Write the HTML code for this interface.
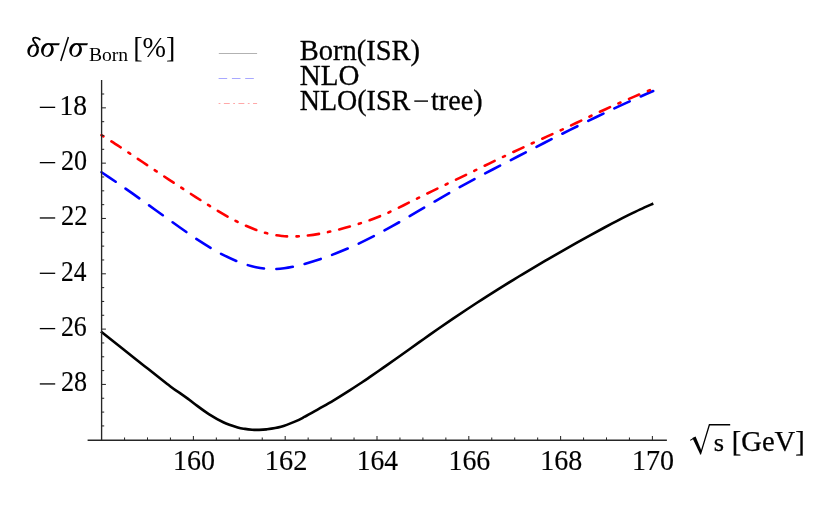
<!DOCTYPE html>
<html><head><meta charset="utf-8"><style>
html,body{margin:0;padding:0;background:#fff;}
svg{display:block;font-family:"Liberation Serif",serif;will-change:transform;opacity:0.9999;}
</style></head><body>
<svg width="832" height="514" viewBox="0 0 832 514">
<rect width="832" height="514" fill="#fff"/>

<g fill="#000" stroke="#000" stroke-width="0.15">
<text x="59.50" y="114.83" font-size="30.3" textLength="27.58" lengthAdjust="spacingAndGlyphs">18</text>
<line x1="39.8" y1="107.33" x2="55.2" y2="107.33" stroke="#000" stroke-width="1.3"/>
<text x="60.92" y="170.15" font-size="30.3" textLength="26.09" lengthAdjust="spacingAndGlyphs">20</text>
<line x1="39.8" y1="162.65" x2="55.2" y2="162.65" stroke="#000" stroke-width="1.3"/>
<text x="60.90" y="225.47" font-size="30.3" textLength="26.57" lengthAdjust="spacingAndGlyphs">22</text>
<line x1="39.8" y1="217.97" x2="55.2" y2="217.97" stroke="#000" stroke-width="1.3"/>
<text x="60.95" y="280.79" font-size="30.3" textLength="25.41" lengthAdjust="spacingAndGlyphs">24</text>
<line x1="39.8" y1="273.29" x2="55.2" y2="273.29" stroke="#000" stroke-width="1.3"/>
<text x="60.93" y="336.11" font-size="30.3" textLength="25.86" lengthAdjust="spacingAndGlyphs">26</text>
<line x1="39.8" y1="328.61" x2="55.2" y2="328.61" stroke="#000" stroke-width="1.3"/>
<text x="60.92" y="391.43" font-size="30.3" textLength="26.09" lengthAdjust="spacingAndGlyphs">28</text>
<line x1="39.8" y1="383.93" x2="55.2" y2="383.93" stroke="#000" stroke-width="1.3"/>
<text x="173.06" y="470.30" font-size="30.3" textLength="42.05" lengthAdjust="spacingAndGlyphs">160</text>
<text x="264.82" y="470.30" font-size="30.3" textLength="42.56" lengthAdjust="spacingAndGlyphs">162</text>
<text x="356.70" y="470.30" font-size="30.3" textLength="41.30" lengthAdjust="spacingAndGlyphs">164</text>
<text x="448.47" y="470.30" font-size="30.3" textLength="41.80" lengthAdjust="spacingAndGlyphs">166</text>
<text x="540.26" y="470.30" font-size="30.3" textLength="42.05" lengthAdjust="spacingAndGlyphs">168</text>
<text x="632.06" y="470.30" font-size="30.3" textLength="42.05" lengthAdjust="spacingAndGlyphs">170</text>
</g>
<path d="M100.90 331.50 C106.67 336.07 123.97 349.77 135.50 358.90 C147.03 368.03 162.68 380.60 170.10 386.30 C177.52 392.00 177.00 391.00 180.00 393.10 C183.00 395.20 185.70 397.12 188.10 398.90 C190.50 400.68 190.95 401.27 194.40 403.80 C197.85 406.33 203.98 411.03 208.80 414.10 C213.62 417.17 218.48 419.98 223.30 422.20 C228.12 424.42 234.08 426.28 237.70 427.40 C241.32 428.52 242.60 428.52 245.00 428.90 C247.40 429.28 249.95 429.53 252.10 429.70 C254.25 429.87 255.50 429.95 257.90 429.90 C260.30 429.85 262.65 429.92 266.50 429.40 C270.35 428.88 276.18 428.13 281.00 426.80 C285.82 425.47 291.50 423.04 295.40 421.40 C299.30 419.76 300.50 419.03 304.40 416.94 C308.30 414.85 313.98 411.58 318.80 408.86 C323.62 406.14 328.48 403.48 333.30 400.62 C338.12 397.76 342.90 394.75 347.70 391.68 C352.50 388.62 358.38 384.71 362.10 382.25 C365.82 379.79 366.52 379.29 370.00 376.91 C373.48 374.52 378.67 370.94 383.00 367.92 C387.33 364.89 391.60 361.87 396.00 358.75 C400.40 355.64 404.77 352.52 409.40 349.22 C414.03 345.93 418.98 342.39 423.80 338.98 C428.62 335.58 433.48 332.14 438.30 328.79 C443.12 325.45 447.90 322.15 452.70 318.89 C457.50 315.63 462.30 312.41 467.10 309.23 C471.90 306.04 476.68 302.91 481.50 299.80 C486.32 296.69 492.18 292.98 496.00 290.57 C499.82 288.15 500.60 287.66 504.40 285.32 C508.20 282.98 513.98 279.42 518.80 276.50 C523.62 273.58 528.48 270.67 533.30 267.82 C538.12 264.96 542.90 262.16 547.70 259.37 C552.50 256.59 557.30 253.83 562.10 251.09 C566.90 248.35 571.68 245.65 576.50 242.94 C581.32 240.24 586.40 237.41 591.00 234.88 C595.60 232.35 599.90 230.01 604.10 227.76 C608.30 225.51 612.17 223.46 616.20 221.37 C620.23 219.28 624.28 217.21 628.30 215.21 C632.32 213.20 636.13 211.30 640.30 209.35 C644.47 207.41 651.13 204.50 653.30 203.53" fill="none" stroke="#000" stroke-width="2.6"/>
<path d="M100.60 171.58 C103.25 173.37 112.48 179.57 116.50 182.30 C120.52 185.04 120.77 185.23 124.70 188.00 C128.63 190.77 136.22 196.16 140.10 198.92 C143.98 201.69 144.10 201.78 148.00 204.59 C151.90 207.40 159.53 212.91 163.50 215.77 C167.47 218.63 167.82 218.91 171.80 221.74 C175.78 224.58 183.42 230.00 187.40 232.79 C191.38 235.57 191.70 235.84 195.70 238.44 C199.70 241.03 207.32 245.88 211.40 248.37 C215.48 250.86 215.93 251.20 220.20 253.36 C224.47 255.51 232.60 259.42 237.00 261.32 C241.40 263.22 243.43 263.78 246.60 264.76 C249.77 265.75 252.88 266.57 256.00 267.22 C259.12 267.87 262.07 268.37 265.30 268.67 C268.53 268.97 272.27 269.10 275.40 269.04 C278.53 268.98 280.97 268.74 284.10 268.32 C287.23 267.90 290.95 267.21 294.20 266.52 C297.45 265.83 299.03 265.49 303.60 264.18 C308.17 262.87 317.03 260.14 321.60 258.66 C326.17 257.18 326.47 257.06 331.00 255.29 C335.53 253.53 344.30 249.96 348.80 248.06 C353.30 246.16 353.70 245.96 358.00 243.91 C362.30 241.85 370.33 237.89 374.60 235.73 C378.87 233.57 379.38 233.27 383.60 230.96 C387.82 228.64 395.68 224.23 399.90 221.84 C404.12 219.45 404.75 219.05 408.90 216.63 C413.05 214.20 420.66 209.71 424.80 207.27 C428.94 204.83 429.54 204.45 433.75 202.00 C437.96 199.54 445.86 194.96 450.05 192.56 C454.24 190.15 454.69 189.90 458.90 187.58 C463.11 185.27 471.05 180.95 475.30 178.65 C479.55 176.36 480.13 176.06 484.40 173.81 C488.67 171.57 496.63 167.41 500.90 165.19 C505.17 162.97 505.73 162.68 510.00 160.48 C514.27 158.28 522.25 154.16 526.50 151.97 C530.75 149.78 531.17 149.57 535.50 147.35 C539.83 145.14 548.15 140.90 552.50 138.69 C556.85 136.49 557.27 136.27 561.60 134.11 C565.93 131.94 574.17 127.83 578.50 125.69 C582.83 123.55 583.28 123.32 587.55 121.25 C591.82 119.18 599.77 115.35 604.10 113.28 C608.43 111.21 609.12 110.88 613.50 108.85 C617.88 106.81 626.00 103.07 630.40 101.07 C634.80 99.06 636.10 98.48 639.90 96.81 C643.70 95.14 650.98 92.02 653.20 91.06" fill="none" stroke="#0000ff" stroke-width="2.6" stroke-linecap="round" stroke-dasharray="16.6 12.33" stroke-dashoffset="-1.4"/>
<path d="M100.60 134.62 C102.28 135.67 107.23 138.68 110.70 140.89 C114.17 143.09 118.28 145.80 121.40 147.85 C124.52 149.91 126.82 151.46 129.40 153.19 C131.98 154.92 133.77 156.13 136.90 158.24 C140.03 160.34 145.07 163.72 148.20 165.82 C151.33 167.92 153.20 169.17 155.70 170.83 C158.20 172.50 160.08 173.75 163.20 175.81 C166.32 177.88 171.20 181.10 174.40 183.20 C177.60 185.30 179.75 186.71 182.40 188.43 C185.05 190.16 187.13 191.51 190.30 193.55 C193.47 195.59 198.28 198.68 201.40 200.66 C204.52 202.65 206.45 203.86 209.00 205.46 C211.55 207.06 213.42 208.28 216.70 210.24 C219.98 212.20 225.41 215.39 228.70 217.23 C231.99 219.07 233.72 219.92 236.45 221.28 C239.18 222.64 241.63 223.89 245.10 225.39 C248.57 226.89 253.74 229.01 257.25 230.29 C260.76 231.57 263.12 232.28 266.15 233.09 C269.17 233.90 272.74 234.65 275.40 235.14 C278.06 235.63 279.93 235.81 282.10 236.03 C284.27 236.25 285.83 236.38 288.40 236.44 C290.97 236.49 294.52 236.50 297.50 236.38 C300.48 236.25 302.53 236.15 306.30 235.70 C310.07 235.26 316.28 234.33 320.10 233.69 C323.92 233.04 326.18 232.50 329.20 231.83 C332.22 231.16 334.67 230.58 338.20 229.66 C341.73 228.74 346.78 227.34 350.40 226.30 C354.02 225.27 356.83 224.41 359.90 223.44 C362.97 222.47 365.27 221.75 368.80 220.48 C372.33 219.21 377.68 217.17 381.10 215.79 C384.52 214.41 386.48 213.49 389.30 212.21 C392.12 210.92 394.63 209.73 398.00 208.09 C401.37 206.45 406.18 204.02 409.50 202.36 C412.82 200.70 415.07 199.55 417.90 198.14 C420.73 196.72 423.13 195.53 426.50 193.89 C429.87 192.24 434.78 189.87 438.10 188.26 C441.43 186.66 443.62 185.62 446.45 184.25 C449.28 182.89 451.73 181.73 455.10 180.10 C458.48 178.47 463.38 176.10 466.70 174.49 C470.02 172.88 472.17 171.84 475.05 170.44 C477.93 169.04 480.59 167.74 484.00 166.09 C487.41 164.44 492.13 162.15 495.50 160.53 C498.87 158.90 501.32 157.73 504.20 156.35 C507.08 154.97 509.43 153.85 512.80 152.27 C516.17 150.69 521.08 148.39 524.40 146.85 C527.72 145.32 529.82 144.37 532.70 143.05 C535.58 141.74 538.27 140.53 541.70 138.97 C545.13 137.41 549.98 135.22 553.30 133.70 C556.62 132.18 558.78 131.18 561.60 129.87 C564.42 128.55 566.77 127.44 570.20 125.82 C573.63 124.19 578.83 121.70 582.20 120.10 C585.57 118.50 587.58 117.54 590.40 116.22 C593.22 114.89 595.65 113.75 599.10 112.16 C602.55 110.57 607.68 108.23 611.10 106.69 C614.52 105.15 616.72 104.18 619.60 102.92 C622.48 101.65 625.02 100.54 628.40 99.10 C631.78 97.65 636.45 95.68 639.90 94.25 C643.35 92.82 646.87 91.41 649.10 90.50 C651.33 89.59 652.60 89.09 653.30 88.81" fill="none" stroke="#ff0000" stroke-width="2.6" stroke-linecap="round" stroke-dasharray="2.2 9.39 10.9 9.33" stroke-dashoffset="-1.16"/>
<g stroke="#262626" stroke-width="1.35" fill="none">
<line x1="101.60" y1="80" x2="101.60" y2="440.5"/>
<line x1="87.6" y1="440.2" x2="666.9" y2="440.2"/>
</g>
<g stroke="#2a2a2a" stroke-width="1.05" fill="none">
<line x1="101.60" y1="425.92" x2="104.20" y2="425.92"/>
<line x1="101.60" y1="412.09" x2="104.20" y2="412.09"/>
<line x1="101.60" y1="398.26" x2="104.20" y2="398.26"/>
<line x1="101.60" y1="384.43" x2="105.90" y2="384.43"/>
<line x1="101.60" y1="370.60" x2="104.20" y2="370.60"/>
<line x1="101.60" y1="356.77" x2="104.20" y2="356.77"/>
<line x1="101.60" y1="342.94" x2="104.20" y2="342.94"/>
<line x1="101.60" y1="329.11" x2="105.90" y2="329.11"/>
<line x1="101.60" y1="315.28" x2="104.20" y2="315.28"/>
<line x1="101.60" y1="301.45" x2="104.20" y2="301.45"/>
<line x1="101.60" y1="287.62" x2="104.20" y2="287.62"/>
<line x1="101.60" y1="273.79" x2="105.90" y2="273.79"/>
<line x1="101.60" y1="259.96" x2="104.20" y2="259.96"/>
<line x1="101.60" y1="246.13" x2="104.20" y2="246.13"/>
<line x1="101.60" y1="232.30" x2="104.20" y2="232.30"/>
<line x1="101.60" y1="218.47" x2="105.90" y2="218.47"/>
<line x1="101.60" y1="204.64" x2="104.20" y2="204.64"/>
<line x1="101.60" y1="190.81" x2="104.20" y2="190.81"/>
<line x1="101.60" y1="176.98" x2="104.20" y2="176.98"/>
<line x1="101.60" y1="163.15" x2="105.90" y2="163.15"/>
<line x1="101.60" y1="149.32" x2="104.20" y2="149.32"/>
<line x1="101.60" y1="135.49" x2="104.20" y2="135.49"/>
<line x1="101.60" y1="121.66" x2="104.20" y2="121.66"/>
<line x1="101.60" y1="107.83" x2="105.90" y2="107.83"/>
<line x1="101.60" y1="94.00" x2="104.20" y2="94.00"/>
<line x1="124.55" y1="440.20" x2="124.55" y2="437.40"/>
<line x1="147.50" y1="440.20" x2="147.50" y2="437.40"/>
<line x1="170.45" y1="440.20" x2="170.45" y2="437.40"/>
<line x1="193.40" y1="440.20" x2="193.40" y2="435.90"/>
<line x1="216.35" y1="440.20" x2="216.35" y2="437.40"/>
<line x1="239.30" y1="440.20" x2="239.30" y2="437.40"/>
<line x1="262.25" y1="440.20" x2="262.25" y2="437.40"/>
<line x1="285.20" y1="440.20" x2="285.20" y2="435.90"/>
<line x1="308.15" y1="440.20" x2="308.15" y2="437.40"/>
<line x1="331.10" y1="440.20" x2="331.10" y2="437.40"/>
<line x1="354.05" y1="440.20" x2="354.05" y2="437.40"/>
<line x1="377.00" y1="440.20" x2="377.00" y2="435.90"/>
<line x1="399.95" y1="440.20" x2="399.95" y2="437.40"/>
<line x1="422.90" y1="440.20" x2="422.90" y2="437.40"/>
<line x1="445.85" y1="440.20" x2="445.85" y2="437.40"/>
<line x1="468.80" y1="440.20" x2="468.80" y2="435.90"/>
<line x1="491.75" y1="440.20" x2="491.75" y2="437.40"/>
<line x1="514.70" y1="440.20" x2="514.70" y2="437.40"/>
<line x1="537.65" y1="440.20" x2="537.65" y2="437.40"/>
<line x1="560.60" y1="440.20" x2="560.60" y2="435.90"/>
<line x1="583.55" y1="440.20" x2="583.55" y2="437.40"/>
<line x1="606.50" y1="440.20" x2="606.50" y2="437.40"/>
<line x1="629.45" y1="440.20" x2="629.45" y2="437.40"/>
<line x1="652.40" y1="440.20" x2="652.40" y2="435.90"/>
</g>
<line x1="218.8" y1="53.5" x2="257.1" y2="53.5" stroke="#b2b2b2" stroke-width="1"/>
<line x1="218.6" y1="78.5" x2="257.1" y2="78.5" stroke="#a8a8ff" stroke-width="1" stroke-dasharray="8.6 4.7"/>
<line x1="218.6" y1="103.5" x2="257.1" y2="103.5" stroke="#ffa8a8" stroke-width="1" stroke-dasharray="1.8 3.45 5.9 3.45"/>
<g fill="#000" stroke="#000" stroke-width="0.3">
<text x="299.78" y="60.00" font-size="29.5" textLength="120.28" lengthAdjust="spacingAndGlyphs">Born(ISR)</text>
<text x="299.76" y="85.30" font-size="29.5" textLength="59.65" lengthAdjust="spacingAndGlyphs">NLO</text>
<text x="299.79" y="110.00" font-size="29.5" textLength="110.31" lengthAdjust="spacingAndGlyphs">NLO(ISR</text>
<text x="431.06" y="110.00" font-size="29.5" textLength="51.46" lengthAdjust="spacingAndGlyphs">tree)</text>
<line x1="414.3" y1="101.1" x2="428" y2="101.1" stroke="#000" stroke-width="1.4"/>
</g>
<g fill="#000">
<g fill="#000"><path fill-rule="evenodd" d="M38.52 52.46 L38.22 53.23 L37.83 53.95 L37.36 54.62 L36.82 55.22 L36.22 55.74 L35.56 56.18 L34.86 56.53 L34.12 56.77 L33.38 56.91 L32.62 56.94 L31.88 56.87 L31.15 56.69 L30.46 56.41 L29.82 56.03 L29.23 55.56 L28.70 55.01 L28.26 54.38 L27.89 53.69 L27.61 52.95 L27.43 52.17 L27.35 51.37 L27.36 50.55 L27.47 49.74 L27.68 48.94 L27.98 48.17 L28.37 47.45 L28.84 46.78 L29.38 46.18 L29.98 45.66 L30.64 45.22 L31.34 44.87 L32.08 44.63 L32.82 44.49 L33.58 44.46 L34.32 44.53 L35.05 44.71 L35.74 44.99 L36.38 45.37 L36.97 45.84 L37.50 46.39 L37.94 47.02 L38.31 47.71 L38.59 48.45 L38.77 49.23 L38.85 50.03 L38.84 50.85 L38.73 51.66 Z M36.10 51.71 L35.87 52.34 L35.59 52.94 L35.26 53.51 L34.91 54.03 L34.52 54.49 L34.11 54.89 L33.68 55.22 L33.25 55.47 L32.81 55.64 L32.38 55.73 L31.96 55.73 L31.56 55.65 L31.19 55.48 L30.85 55.23 L30.55 54.91 L30.30 54.51 L30.09 54.05 L29.94 53.54 L29.84 52.97 L29.80 52.37 L29.82 51.74 L29.89 51.09 L30.02 50.44 L30.20 49.79 L30.43 49.16 L30.71 48.56 L31.04 47.99 L31.39 47.47 L31.78 47.01 L32.19 46.61 L32.62 46.28 L33.05 46.03 L33.49 45.86 L33.92 45.77 L34.34 45.77 L34.74 45.85 L35.11 46.02 L35.45 46.27 L35.75 46.59 L36.00 46.99 L36.21 47.45 L36.36 47.96 L36.46 48.53 L36.50 49.13 L36.48 49.76 L36.41 50.41 L36.28 51.06 Z"/></g><path d="M38.0 47.6 C37.0 44.6 33.6 42.2 33.1 40.0 C32.7 38.2 34.0 37.5 35.6 37.6 C37.4 37.7 38.9 38.4 39.7 39.4" fill="none" stroke="#000" stroke-width="1.9" stroke-linecap="round"/>
<g transform="translate(0.00,0)"><path fill-rule="evenodd" d="M0 0" /><g fill="#000"><path fill-rule="evenodd" d="M53.34 51.93 L53.01 52.78 L52.59 53.58 L52.07 54.31 L51.47 54.98 L50.81 55.56 L50.08 56.04 L49.31 56.42 L48.51 56.69 L47.69 56.85 L46.86 56.88 L46.05 56.81 L45.25 56.61 L44.49 56.30 L43.79 55.88 L43.14 55.37 L42.57 54.76 L42.08 54.07 L41.68 53.31 L41.38 52.49 L41.18 51.63 L41.09 50.75 L41.10 49.85 L41.23 48.95 L41.46 48.07 L41.79 47.22 L42.21 46.42 L42.73 45.69 L43.33 45.02 L43.99 44.44 L44.72 43.96 L45.49 43.58 L46.29 43.31 L47.11 43.15 L47.94 43.12 L48.75 43.19 L49.55 43.39 L50.31 43.70 L51.01 44.12 L51.66 44.63 L52.23 45.24 L52.72 45.93 L53.12 46.69 L53.42 47.51 L53.62 48.37 L53.71 49.25 L53.70 50.15 L53.57 51.05 Z M50.63 51.37 L50.38 52.06 L50.07 52.72 L49.71 53.34 L49.32 53.91 L48.89 54.42 L48.44 54.85 L47.96 55.21 L47.48 55.49 L46.99 55.67 L46.51 55.77 L46.05 55.77 L45.60 55.67 L45.19 55.49 L44.81 55.21 L44.48 54.86 L44.20 54.42 L43.97 53.91 L43.80 53.35 L43.68 52.73 L43.64 52.06 L43.65 51.37 L43.73 50.66 L43.87 49.94 L44.07 49.23 L44.32 48.54 L44.63 47.88 L44.99 47.26 L45.38 46.69 L45.81 46.18 L46.26 45.75 L46.74 45.39 L47.22 45.11 L47.71 44.93 L48.19 44.83 L48.65 44.83 L49.10 44.93 L49.51 45.11 L49.89 45.39 L50.22 45.74 L50.50 46.18 L50.73 46.69 L50.90 47.25 L51.02 47.87 L51.06 48.54 L51.05 49.23 L50.97 49.94 L50.83 50.66 Z"/><path d="M47.2 43.15 L59.75 43.15 L59.0 45.2 L50.2 45.2 Z"/></g></g>
<line x1="60.8" y1="61" x2="68.4" y2="36.9" stroke="#000" stroke-width="1.5"/>
<g transform="translate(28.20,0)"><path fill-rule="evenodd" d="M0 0" /><g fill="#000"><path fill-rule="evenodd" d="M53.34 51.93 L53.01 52.78 L52.59 53.58 L52.07 54.31 L51.47 54.98 L50.81 55.56 L50.08 56.04 L49.31 56.42 L48.51 56.69 L47.69 56.85 L46.86 56.88 L46.05 56.81 L45.25 56.61 L44.49 56.30 L43.79 55.88 L43.14 55.37 L42.57 54.76 L42.08 54.07 L41.68 53.31 L41.38 52.49 L41.18 51.63 L41.09 50.75 L41.10 49.85 L41.23 48.95 L41.46 48.07 L41.79 47.22 L42.21 46.42 L42.73 45.69 L43.33 45.02 L43.99 44.44 L44.72 43.96 L45.49 43.58 L46.29 43.31 L47.11 43.15 L47.94 43.12 L48.75 43.19 L49.55 43.39 L50.31 43.70 L51.01 44.12 L51.66 44.63 L52.23 45.24 L52.72 45.93 L53.12 46.69 L53.42 47.51 L53.62 48.37 L53.71 49.25 L53.70 50.15 L53.57 51.05 Z M50.63 51.37 L50.38 52.06 L50.07 52.72 L49.71 53.34 L49.32 53.91 L48.89 54.42 L48.44 54.85 L47.96 55.21 L47.48 55.49 L46.99 55.67 L46.51 55.77 L46.05 55.77 L45.60 55.67 L45.19 55.49 L44.81 55.21 L44.48 54.86 L44.20 54.42 L43.97 53.91 L43.80 53.35 L43.68 52.73 L43.64 52.06 L43.65 51.37 L43.73 50.66 L43.87 49.94 L44.07 49.23 L44.32 48.54 L44.63 47.88 L44.99 47.26 L45.38 46.69 L45.81 46.18 L46.26 45.75 L46.74 45.39 L47.22 45.11 L47.71 44.93 L48.19 44.83 L48.65 44.83 L49.10 44.93 L49.51 45.11 L49.89 45.39 L50.22 45.74 L50.50 46.18 L50.73 46.69 L50.90 47.25 L51.02 47.87 L51.06 48.54 L51.05 49.23 L50.97 49.94 L50.83 50.66 Z"/><path d="M47.2 43.15 L59.75 43.15 L59.0 45.2 L50.2 45.2 Z"/></g></g>
<text x="88.96" y="60.80" font-size="18" textLength="39.22" lengthAdjust="spacingAndGlyphs">Born</text>
<text x="133.20" y="57.30" font-size="28.8" textLength="42.22" lengthAdjust="spacingAndGlyphs">[%]</text>
</g>
<g fill="#000" stroke="#000" stroke-width="0.25">
<text x="713.66" y="451.25" font-size="25.5" textLength="10.30" lengthAdjust="spacingAndGlyphs">s</text>
<text x="731.72" y="451.25" font-size="29.5" textLength="73.02" lengthAdjust="spacingAndGlyphs">[GeV]</text>
<path d="M690.2 440.4 L693.8 438.2" fill="none" stroke="#000" stroke-width="1.1"/>
<path d="M692.4 438.1 L695.6 436.6 L701.4 450.6 L700.4 454.8 Z" fill="#000" stroke="none"/>
<path d="M700.4 454.4 L709.4 424.75 L730.2 424.75" fill="none" stroke="#000" stroke-width="1.3"/>
</g>
</svg>
</body></html>
